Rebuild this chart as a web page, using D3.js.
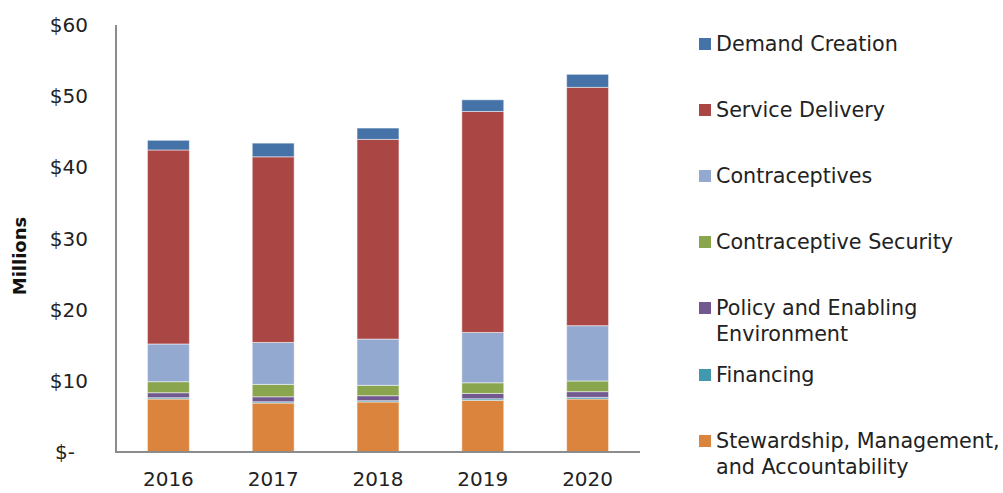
<!DOCTYPE html>
<html>
<head>
<meta charset="utf-8">
<script src="https://cdn.jsdelivr.net/npm/d3@7"></script>
<style>
  body { margin: 0; background: #fff; }
  svg { display: block; }
</style>
</head>
<body>
<div id="chart"></div>
<script>
"use strict";
var width = 1003;
var height = 493;

// data, in millions
var years = ['2016', '2017', '2018', '2019', '2020'];
var stewardship = [7.45, 6.88, 7.03, 7.26, 7.45];
var financing = [0.18, 0.18, 0.18, 0.22, 0.23];
var policy = [0.70, 0.70, 0.70, 0.75, 0.80];
var contraSecurity = [1.55, 1.74, 1.46, 1.50, 1.50];
var contraceptives = [5.30, 5.90, 6.50, 7.07, 7.77];
var serviceDelivery = [27.26, 26.08, 28.06, 31.05, 33.49];
var demandCreation = [1.36, 1.92, 1.59, 1.64, 1.83];
var yTicks = [0, 10, 20, 30, 40, 50, 60];

// bottom to top
var series = [
    { name: 'Stewardship, Management,|and Accountability', values: stewardship, color: '#DB843D' },
    { name: 'Financing', values: financing, color: '#4198AF' },
    { name: 'Policy and Enabling|Environment', values: policy, color: '#71588F' },
    { name: 'Contraceptive Security', values: contraSecurity, color: '#89A54E' },
    { name: 'Contraceptives', values: contraceptives, color: '#93A9CF' },
    { name: 'Service Delivery', values: serviceDelivery, color: '#AA4643' },
    { name: 'Demand Creation', values: demandCreation, color: '#4572A7' }
];

var rows = years.map(function (y, i) {
    var r = { year: y };
    series.forEach(function (s) { r[s.name] = s.values[i]; });
    return r;
});

var margin = { left: 116, right: 363, top: 25, bottom: 41 };
var font = '"DejaVu Sans", sans-serif';

var x = d3.scaleBand()
    .domain(years)
    .range([margin.left, width - margin.right])
    .paddingInner(0.6)
    .paddingOuter(0.3);

var y = d3.scaleLinear()
    .domain([0, 60])
    .range([height - margin.bottom, margin.top]);

var stack = d3.stack().keys(series.map(function (s) { return s.name; }));
var stacked = stack(rows);

var svg = d3.select('#chart')
    .append('svg')
    .attr('width', width)
    .attr('height', height)
    .style('font-family', font);

// bars
svg.selectAll('g.layer')
    .data(stacked)
    .enter()
    .append('g')
    .attr('class', 'layer')
    .attr('fill', function (d, i) { return series[i].color; })
    .selectAll('rect')
    .data(function (d) { return d; })
    .enter()
    .append('rect')
    .attr('x', function (d) { return x(d.data.year); })
    .attr('width', x.bandwidth())
    .attr('y', function (d) { return y(d[1]); })
    .attr('height', function (d) { return y(d[0]) - y(d[1]); })
    .attr('stroke', '#ffffff')
    .attr('stroke-opacity', 0.5)
    .attr('stroke-width', 1);

// axes lines
svg.append('line')
    .attr('x1', margin.left).attr('x2', margin.left)
    .attr('y1', y(60)).attr('y2', y(0) + 1)
    .attr('stroke', '#8c8c8c').attr('stroke-width', 2);
svg.append('line')
    .attr('x1', margin.left - 1).attr('x2', width - margin.right)
    .attr('y1', y(0)).attr('y2', y(0))
    .attr('stroke', '#8c8c8c').attr('stroke-width', 2);

// y tick labels
svg.selectAll('text.ytick')
    .data(yTicks)
    .enter()
    .append('text')
    .attr('class', 'ytick')
    .attr('x', function (d) { return d === 0 ? 75 : 88; })
    .attr('y', function (d) { return y(d); })
    .attr('dy', '0.35em')
    .attr('text-anchor', 'end')
    .style('font-size', '20px')
    .attr('fill', '#222')
    .text(function (d) { return d === 0 ? '$-' : '$' + d; });

// x tick labels
svg.selectAll('text.xtick')
    .data(years)
    .enter()
    .append('text')
    .attr('class', 'xtick')
    .attr('x', function (d) { return x(d) + x.bandwidth() / 2; })
    .attr('y', y(0) + 34)
    .attr('text-anchor', 'middle')
    .style('font-size', '20px')
    .attr('fill', '#222')
    .text(function (d) { return d; });

// y title
svg.append('text')
    .attr('transform', 'translate(26,256) rotate(-90)')
    .attr('text-anchor', 'middle')
    .style('font-size', '18px')
    .style('font-weight', 'bold')
    .attr('fill', '#111')
    .text('Millions');

// legend, top to bottom
var legendRows = series.slice().reverse();
var legendY = [44, 110, 176, 242, 308, 375, 441];
var legend = svg.selectAll('g.legend')
    .data(legendRows)
    .enter()
    .append('g')
    .attr('class', 'legend')
    .attr('transform', function (d, i) { return 'translate(699,' + legendY[i] + ')'; });

legend.append('rect')
    .attr('x', 0).attr('y', -6)
    .attr('width', 12).attr('height', 12)
    .attr('fill', function (d) { return d.color; });

legend.append('text')
    .attr('x', 17)
    .attr('fill', '#222')
    .style('font-size', '20.7px')
    .selectAll('tspan')
    .data(function (d) { return d.name.split('|'); })
    .enter()
    .append('tspan')
    .attr('x', 17)
    .attr('dy', function (d, i) { return i === 0 ? '0.35em' : '1.26em'; })
    .text(function (d) { return d; });
</script>
</body>
</html>
